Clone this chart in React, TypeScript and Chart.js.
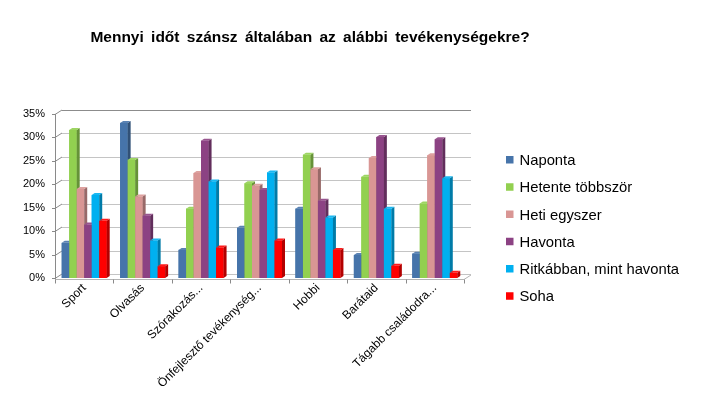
import React, { useEffect, useRef } from "react";
import { Chart, registerables } from "chart.js";

Chart.register(...registerables);

const TITLE = "Mennyi időt szánsz általában az alábbi tevékenységekre?";
const categories = ["Sport", "Olvasás", "Szórakozás...", "Önfejlesztő tevékenység...", "Hobbi", "Barátaid", "Tágabb családodra..."];
const seriesNames = ["Naponta", "Hetente többször", "Heti egyszer", "Havonta", "Ritkábban, mint havonta", "Soha"];
const naponta = [7.5, 33.1, 6.0, 10.7, 14.8, 4.9, 5.2];
const hetenteTobbszor = [31.6, 25.2, 14.8, 20.2, 26.3, 21.6, 15.9];
const hetiEgyszer = [19.0, 17.4, 22.4, 19.7, 23.2, 25.6, 26.2];
const havonta = [11.4, 13.3, 29.3, 18.8, 16.5, 30.1, 29.6];
const ritkabban = [17.7, 8.0, 20.6, 22.5, 12.9, 14.8, 21.3];
const soha = [12.2, 2.5, 6.5, 8.0, 6.0, 2.6, 1.1];
const yTicks = [0, 5, 10, 15, 20, 25, 30, 35];
const colors = ["#4674AA", "#92D050", "#D99694", "#8C4283", "#00B0F0", "#FF0000"];

function shade(hex: string, f: number): string {
  const n = parseInt(hex.slice(1), 16);
  let r = (n >> 16) & 255, g = (n >> 8) & 255, b = n & 255;
  if (f < 0) {
    r = Math.round(r * (1 + f)); g = Math.round(g * (1 + f)); b = Math.round(b * (1 + f));
  } else {
    r = Math.round(r + (255 - r) * f); g = Math.round(g + (255 - g) * f); b = Math.round(b + (255 - b) * f);
  }
  return `rgb(${r},${g},${b})`;
}

const DX = 7, DY = 4.5; // back wall offset
const BX = 3, BY = 2; // bar depth

const gridPlugin = {
  id: "grid3d",
  beforeDatasetsDraw(chart: any) {
    const { ctx, chartArea, scales } = chart;
    const y = scales.y;
    const { left, right } = chartArea;
    ctx.save();
    ctx.lineWidth = 1;
    yTicks.forEach((v, i) => {
      const yf = Math.round(y.getPixelForValue(v)) + 0.5;
      ctx.strokeStyle = "#8a8a8a";
      ctx.beginPath();
      ctx.moveTo(left - 3, yf);
      ctx.lineTo(left, yf);
      ctx.lineTo(left + DX, yf - DY);
      ctx.stroke();
      ctx.strokeStyle = i === yTicks.length - 1 ? "#8c8c8c" : "#c4c4c4";
      ctx.beginPath();
      ctx.moveTo(left + DX, Math.round(yf - DY) + 0.5);
      ctx.lineTo(right + DX, Math.round(yf - DY) + 0.5);
      ctx.stroke();
    });
    const yTop = y.getPixelForValue(yTicks[yTicks.length - 1]);
    const y0 = Math.round(y.getPixelForValue(0)) + 0.5;
    ctx.strokeStyle = "#8a8a8a";
    ctx.beginPath();
    ctx.moveTo(left + 0.5, yTop);
    ctx.lineTo(left + 0.5, y0 + 0.5);
    ctx.stroke();
    ctx.strokeStyle = "#b4b4b4";
    ctx.beginPath();
    ctx.moveTo(left, y0 + 1);
    ctx.lineTo(right, y0 + 1);
    ctx.lineTo(right + DX, y0 + 1 - DY);
    ctx.stroke();
    ctx.strokeStyle = "#8a8a8a";
    for (let i = 0; i <= categories.length; i++) {
      const xp = Math.round(left + ((right - left) * i) / categories.length) + 0.5;
      ctx.beginPath();
      ctx.moveTo(xp, y0 + 1);
      ctx.lineTo(xp, y0 + 5);
      ctx.stroke();
    }
    ctx.restore();
  },
};

const bars3dPlugin = {
  id: "bars3d",
  afterDatasetsDraw(chart: any) {
    const { ctx } = chart;
    const metas = chart.data.datasets.map((_: any, i: number) => chart.getDatasetMeta(i));
    ctx.save();
    for (let c = 0; c < categories.length; c++) {
      metas.forEach((meta: any, di: number) => {
        const el = meta.data[c];
        if (!el) return;
        const { x, y, base, width } = el.getProps(["x", "y", "base", "width"], true);
        const l = x - width / 2, r = x + width / 2;
        const col = colors[di];
        ctx.fillStyle = col;
        ctx.fillRect(l, y, width, base - y);
        ctx.fillStyle = shade(col, -0.3);
        ctx.beginPath();
        ctx.moveTo(r, y);
        ctx.lineTo(r + BX, y - BY);
        ctx.lineTo(r + BX, base - BY);
        ctx.lineTo(r, base);
        ctx.closePath();
        ctx.fill();
        ctx.fillStyle = shade(col, 0.1);
        ctx.beginPath();
        ctx.moveTo(l, y);
        ctx.lineTo(l + BX, y - BY);
        ctx.lineTo(r + BX, y - BY);
        ctx.lineTo(r, y);
        ctx.closePath();
        ctx.fill();
      });
    }
    ctx.restore();
  },
};

const textPlugin = {
  id: "texts",
  afterDraw(chart: any) {
    const { ctx } = chart;
    ctx.save();
    ctx.fillStyle = "#000";
    ctx.font = "bold 15.5px 'Liberation Sans', Arial, sans-serif";
    ctx.textAlign = "center";
    ctx.textBaseline = "alphabetic";
    try { (ctx as any).wordSpacing = "3px"; } catch (e) {}
    ctx.fillText(TITLE, 310, 42);
    try { (ctx as any).wordSpacing = "0px"; } catch (e) {}
    ctx.font = "14.8px 'Liberation Sans', Arial, sans-serif";
    ctx.textAlign = "left";
    chart.data.datasets.forEach((ds: any, i: number) => {
      const yb = 165 + i * 27.25;
      ctx.fillStyle = ds.backgroundColor;
      ctx.fillRect(506, yb - 9, 7.5, 7.5);
      ctx.fillStyle = "#000";
      ctx.fillText(ds.label, 519.5, yb);
    });
    ctx.restore();
  },
};

export default function App() {
  const ref = useRef<HTMLCanvasElement>(null);
  useEffect(() => {
    if (!ref.current) return;
    const seriesData = [naponta, hetenteTobbszor, hetiEgyszer, havonta, ritkabban, soha];
    const chart = new Chart(ref.current, {
      type: "bar",
      data: {
        labels: categories,
        datasets: seriesNames.map((name, i) => ({
          label: name,
          data: seriesData[i],
          backgroundColor: colors[i],
          borderWidth: 0,
          categoryPercentage: 0.77,
          barPercentage: 1,
        })),
      },
      options: {
        responsive: false,
        animation: false,
        layout: { padding: { left: 0, top: 114, right: 253, bottom: 0 } },
        plugins: { legend: { display: false }, title: { display: false }, tooltip: { enabled: false } },
        scales: {
          x: {
            grid: { display: false, drawTicks: false },
            border: { display: false },
            ticks: {
              autoSkip: false,
              maxRotation: 45,
              minRotation: 45,
              padding: 3,
              color: "#000",
              font: { family: "'Liberation Sans', Arial, sans-serif", size: 12 },
            },
            afterFit: (s: any) => { s.height = 138; },
          },
          y: {
            min: 0,
            max: 35,
            grid: { display: false, drawTicks: false },
            border: { display: false },
            ticks: {
              stepSize: 5,
              padding: 10,
              color: "#000",
              font: { family: "'Liberation Sans', Arial, sans-serif", size: 11 },
              callback: (v: any) => v + "%",
            },
            afterFit: (s: any) => { s.width = 55; },
          },
        },
      },
      plugins: [gridPlugin, bars3dPlugin, textPlugin],
    });
    return () => chart.destroy();
  }, []);
  return (
    <div style={{ position: "absolute", left: 0, top: 0, width: 717, height: 416, background: "#fff" }}>
      <canvas ref={ref} width={717} height={416} />
    </div>
  );
}
